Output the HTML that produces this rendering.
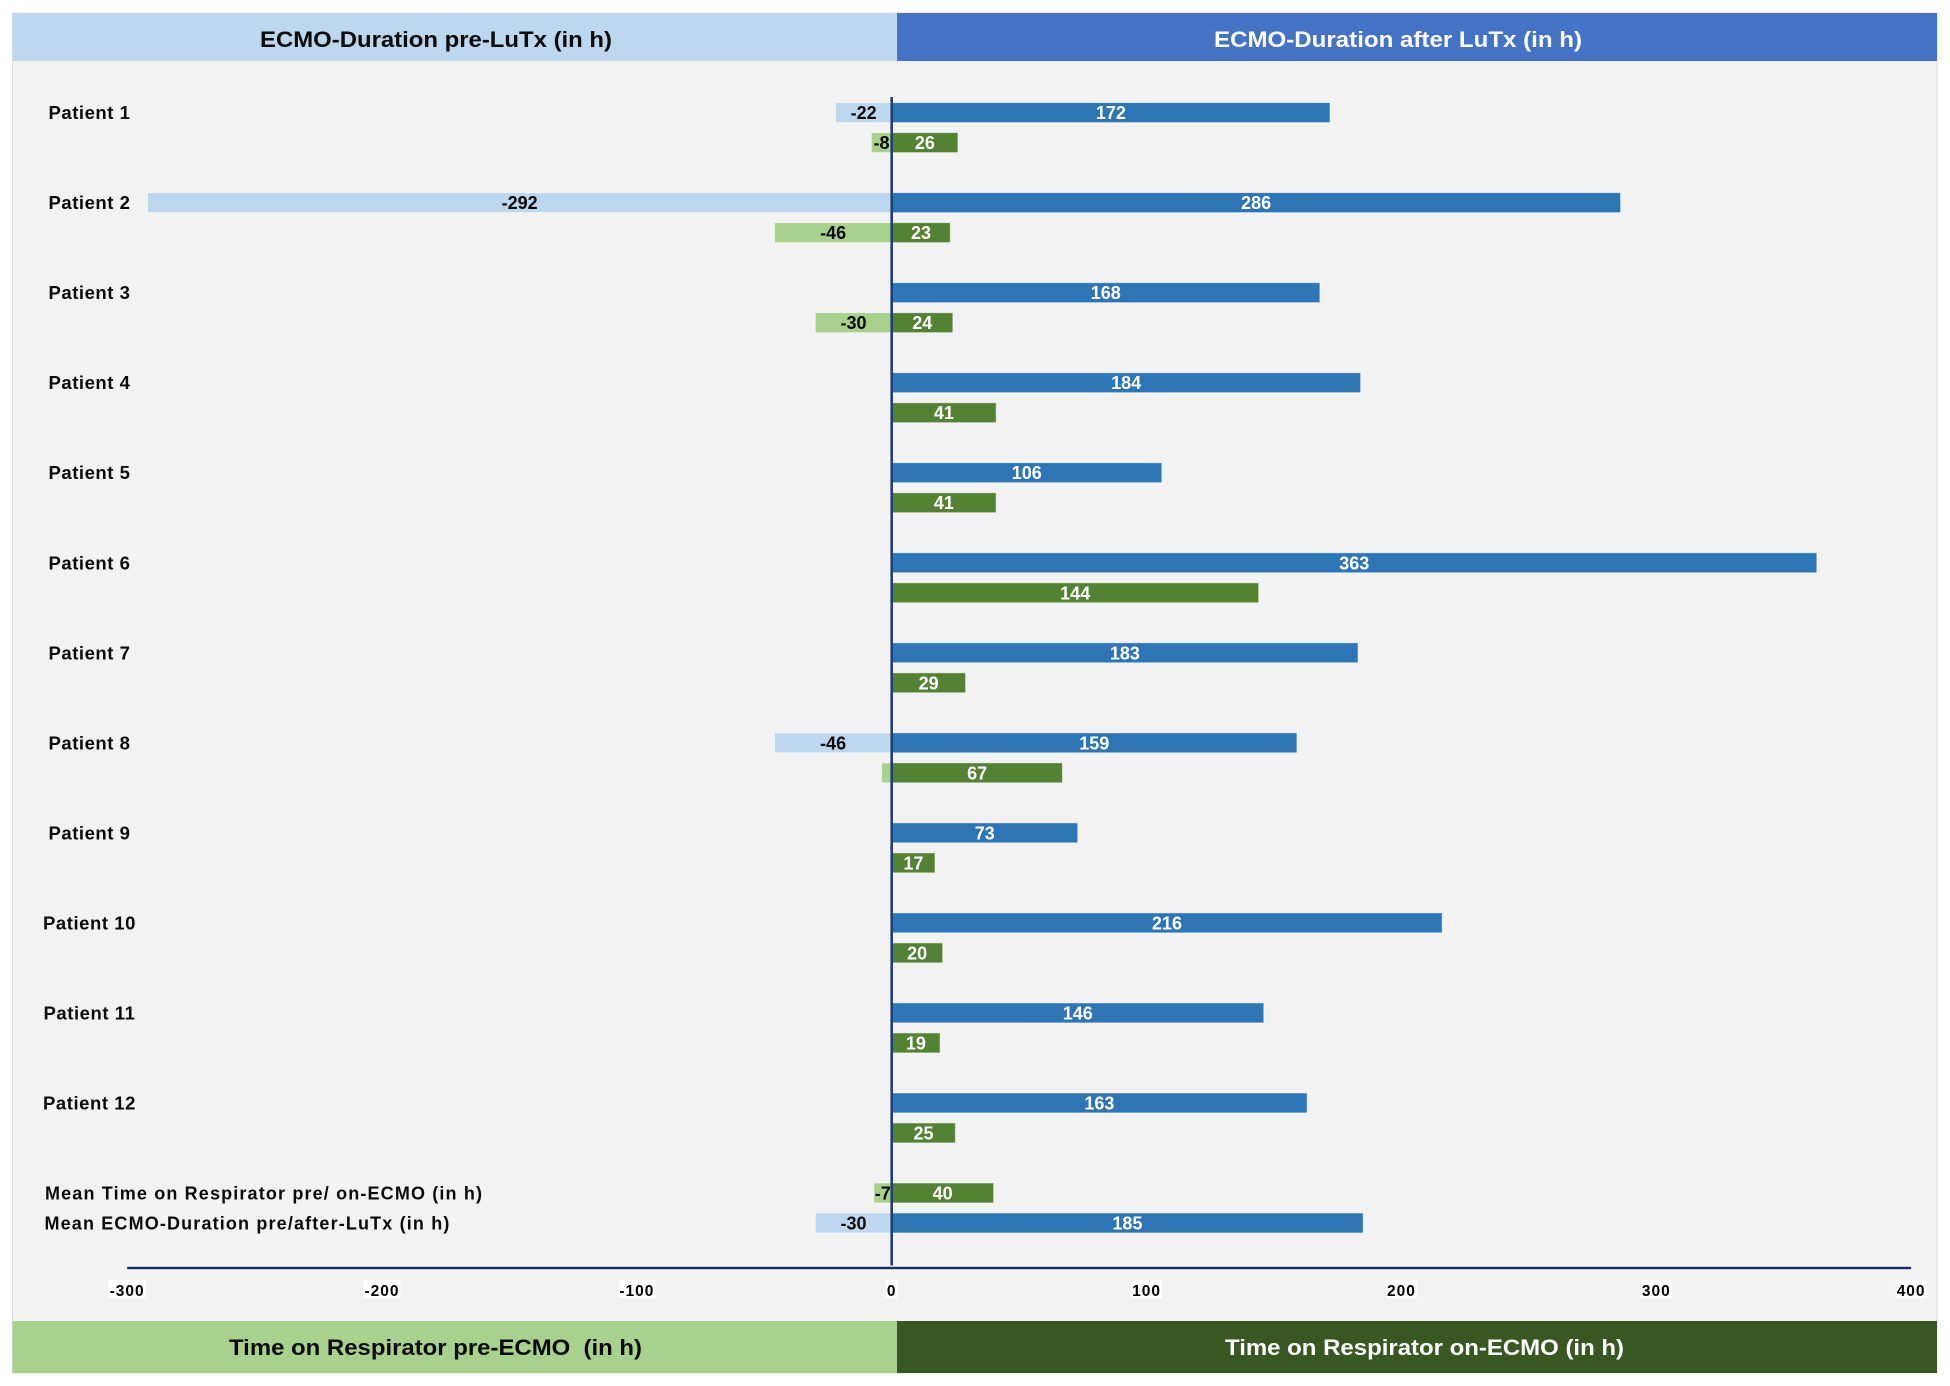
<!DOCTYPE html>
<html lang="en">
<head>
<meta charset="utf-8">
<title>ECMO duration and time on respirator per patient</title>
<style>
html,body{margin:0;padding:0;background:#fff;}
svg{display:block;}
text{font-family:"Liberation Sans",sans-serif;font-weight:bold;}
.hdr{font-size:22px;}
.cat{font-size:18.5px;letter-spacing:.55px;fill:#0a0a0a;text-anchor:middle;}
.mean{font-size:18px;letter-spacing:1.15px;fill:#0a0a0a;}
.val{font-size:18px;text-anchor:middle;}
.tick{font-size:15.5px;letter-spacing:1px;text-anchor:middle;fill:#000;}
</style>
</head>
<body>
<svg id="chart" xmlns="http://www.w3.org/2000/svg" width="1950" height="1386" viewBox="0 0 1950 1386">
  <rect x="0" y="0" width="1950" height="1386" fill="#ffffff"/>
  <rect x="12.5" y="13" width="1924.5" height="1360" fill="#f2f2f2" stroke="#d9d9d9" stroke-width="1"/>
  <rect x="12.5" y="13" width="884.5" height="48" fill="#bdd7ee"/>
  <rect x="897" y="13" width="1040" height="48" fill="#4472c4"/>
  <rect x="12.5" y="1321" width="884.5" height="52" fill="#a9d18e"/>
  <rect x="897" y="1321" width="1040" height="52" fill="#385723"/>
  <text class="hdr" x="260" y="47" textLength="352" lengthAdjust="spacingAndGlyphs" fill="#0a0a0a">ECMO-Duration pre-LuTx (in h)</text>
  <text class="hdr" x="1214" y="47" textLength="368" lengthAdjust="spacingAndGlyphs" fill="#ffffff">ECMO-Duration after LuTx (in h)</text>
  <text class="hdr" x="229" y="1355" textLength="413" lengthAdjust="spacingAndGlyphs" fill="#0a0a0a" xml:space="preserve">Time on Respirator pre-ECMO  (in h)</text>
  <text class="hdr" x="1225" y="1355" textLength="399" lengthAdjust="spacingAndGlyphs" fill="#ffffff">Time on Respirator on-ECMO (in h)</text>
  <g id="bars"></g>
  <g id="labels"></g>
  <g id="axis"></g>
  <g id="values"></g>
</svg>
<script>
const patients = ['Patient 1','Patient 2','Patient 3','Patient 4','Patient 5','Patient 6','Patient 7','Patient 8','Patient 9','Patient 10','Patient 11','Patient 12'];
const ecmoPreLuTx = [-22,-292,0,0,0,0,0,-46,0,0,0,0];
const ecmoAfterLuTx = [172,286,168,184,106,363,183,159,73,216,146,163];
const respiratorPreEcmo = [-8,-46,-30,0,0,0,0,-4,0,0,0,0];
const respiratorOnEcmo = [26,23,24,41,41,144,29,67,17,20,19,25];
const meanRespiratorLabel = 'Mean Time on Respirator pre/ on-ECMO (in h)';
const meanRespirator = [-7,40];
const meanEcmoLabel = 'Mean ECMO-Duration pre/after-LuTx (in h)';
const meanEcmo = [-30,185];
const xTicks = [-300,-200,-100,0,100,200,300,400];

const COLORS = {lightBlue:'#bdd7ee', blue:'#2e75b6', lightGreen:'#a9d18e', green:'#548235', axis:'#1f3f77'};
const NS = 'http://www.w3.org/2000/svg';
const barsLayer = document.getElementById('bars');
const labelsLayer = document.getElementById('labels');
const axisLayer = document.getElementById('axis');
const valuesLayer = document.getElementById('values');

function xScale(v){ return 891.7 + v * 2.5486; }
function rowY(slot){ return 112.6 + slot * 30.01; }

function makeBar(value, slot, fill){
  const x0 = xScale(0), x1 = xScale(value);
  const el = document.createElementNS(NS, 'rect');
  el.setAttribute('x', Math.min(x0, x1));
  el.setAttribute('y', rowY(slot) - 10);
  el.setAttribute('width', Math.abs(x1 - x0));
  el.setAttribute('height', 20);
  el.setAttribute('fill', fill);
  el.setAttribute('stroke', '#ffffff');
  el.setAttribute('stroke-opacity', '0.55');
  el.setAttribute('stroke-width', '1');
  barsLayer.appendChild(el);
  return el;
}
function makeValue(value, slot, fill){
  const el = document.createElementNS(NS, 'text');
  el.setAttribute('class', 'val');
  el.setAttribute('x', xScale(value / 2));
  el.setAttribute('y', rowY(slot) + 6.5);
  el.setAttribute('fill', fill);
  el.textContent = String(value);
  valuesLayer.appendChild(el);
  return el;
}
function makeCategory(text, slot, cls, x){
  const el = document.createElementNS(NS, 'text');
  el.setAttribute('class', cls);
  el.setAttribute('x', x);
  el.setAttribute('y', rowY(slot) + 6.5);
  el.textContent = text;
  labelsLayer.appendChild(el);
  return el;
}
function showLabel(v){ return Math.abs(v) >= 5; }

patients.forEach(function(name, i){
  const top = i * 3, bottom = i * 3 + 1;
  const cat = makeCategory(name, top, 'cat', 89.5);
  
  
  if (ecmoPreLuTx[i] !== 0) {
    const b = makeBar(ecmoPreLuTx[i], top, COLORS.lightBlue);
    
    
    if (showLabel(ecmoPreLuTx[i])) {
      const t = makeValue(ecmoPreLuTx[i], top, '#0a0a0a');
      
      
    }
  }
  const b2 = makeBar(ecmoAfterLuTx[i], top, COLORS.blue);
  
  
  const t2 = makeValue(ecmoAfterLuTx[i], top, '#ffffff');
  
  
  if (respiratorPreEcmo[i] !== 0) {
    const b3 = makeBar(respiratorPreEcmo[i], bottom, COLORS.lightGreen);
    
    
    if (showLabel(respiratorPreEcmo[i])) {
      const t3 = makeValue(respiratorPreEcmo[i], bottom, '#0a0a0a');
      
      
    }
  }
  const b4 = makeBar(respiratorOnEcmo[i], bottom, COLORS.green);
  
  
  const t4 = makeValue(respiratorOnEcmo[i], bottom, '#ffffff');
  
  
});

const meanRespSlot = patients.length * 3;
const meanEcmoSlot = meanRespSlot + 1;

const meanCat1 = makeCategory(meanRespiratorLabel, meanRespSlot, 'mean', 45);


const meanCat2 = makeCategory(meanEcmoLabel, meanEcmoSlot, 'mean', 44.5);



const mb1 = makeBar(meanRespirator[0], meanRespSlot, COLORS.lightGreen);


const mb2 = makeBar(meanRespirator[1], meanRespSlot, COLORS.green);


const mb3 = makeBar(meanEcmo[0], meanEcmoSlot, COLORS.lightBlue);


const mb4 = makeBar(meanEcmo[1], meanEcmoSlot, COLORS.blue);


const mt1 = makeValue(meanRespirator[0], meanRespSlot, '#0a0a0a');


const mt2 = makeValue(meanRespirator[1], meanRespSlot, '#ffffff');


const mt3 = makeValue(meanEcmo[0], meanEcmoSlot, '#0a0a0a');


const mt4 = makeValue(meanEcmo[1], meanEcmoSlot, '#ffffff');



const zeroLine = document.createElementNS(NS, 'line');


zeroLine.setAttribute('x1', xScale(0));
zeroLine.setAttribute('x2', xScale(0));
zeroLine.setAttribute('y1', 97);
zeroLine.setAttribute('y2', 1268);
zeroLine.setAttribute('stroke', COLORS.axis);
zeroLine.setAttribute('stroke-width', 2.6);
axisLayer.appendChild(zeroLine);

const axisHalo = document.createElementNS(NS, 'line');


axisHalo.setAttribute('x1', xScale(xTicks[0]));
axisHalo.setAttribute('x2', xScale(xTicks[xTicks.length - 1]));
axisHalo.setAttribute('y1', 1268);
axisHalo.setAttribute('y2', 1268);
axisHalo.setAttribute('stroke', '#ffffff');
axisHalo.setAttribute('stroke-width', 5);
axisLayer.appendChild(axisHalo);

const axisLine = document.createElementNS(NS, 'line');


axisLine.setAttribute('x1', xScale(xTicks[0]));
axisLine.setAttribute('x2', xScale(xTicks[xTicks.length - 1]));
axisLine.setAttribute('y1', 1268);
axisLine.setAttribute('y2', 1268);
axisLine.setAttribute('stroke', '#17305f');
axisLine.setAttribute('stroke-width', 2.6);
axisLayer.appendChild(axisLine);

xTicks.forEach(function(tick){
  const bg = document.createElementNS(NS, 'rect');
  
  
  bg.setAttribute('fill', '#ffffff');
  axisLayer.appendChild(bg);
  const lbl = document.createElementNS(NS, 'text');
  
  
  lbl.setAttribute('class', 'tick');
  lbl.setAttribute('x', xScale(tick));
  lbl.setAttribute('y', 1296);
  lbl.textContent = String(tick);
  axisLayer.appendChild(lbl);
  const w = lbl.getComputedTextLength();
  bg.setAttribute('x', xScale(tick) - w / 2 - 1);
  bg.setAttribute('y', 1280);
  bg.setAttribute('width', w + 2);
  bg.setAttribute('height', 18);
});
</script>
</body>
</html>
